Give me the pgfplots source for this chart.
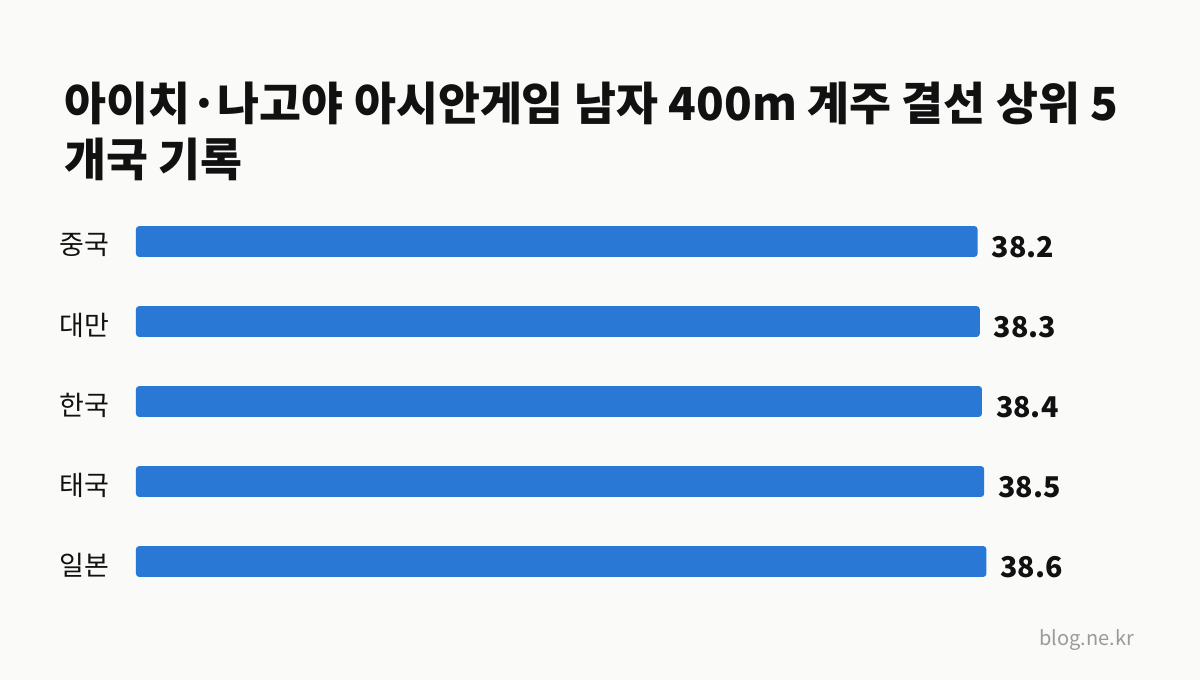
\documentclass[border=0pt]{standalone}
\usepackage{fontspec}
\usepackage{pgfplots}
\pgfplotsset{compat=1.18}
\setmainfont{Noto Sans CJK KR}

\definecolor{bg}{HTML}{FAFAF8}
\definecolor{barblue}{HTML}{2A78D6}
\definecolor{ink}{HTML}{111111}
\definecolor{wmark}{HTML}{9A9A9A}

\begin{document}
\begin{tikzpicture}
  % page: 1 pt = 1 px, origin at the top left
  \path[use as bounding box, fill=bg] (0,0) rectangle (1200pt,-680pt);

  \node[anchor=base west, inner sep=0pt, text=ink,
        font=\fontsize{45.6}{54}\selectfont\bfseries] at (64pt,-120pt)
    {아이치·나고야 아시안게임 남자 400m 계주 결선 상위 5};
  \node[anchor=base west, inner sep=0pt, text=ink,
        font=\fontsize{45.6}{54}\selectfont\bfseries] at (64pt,-176pt)
    {개국 기록};

  \begin{axis}[
      at={(136pt,-201.5pt)}, anchor=north west,
      scale only axis, width=881.2pt, height=400pt,
      xmin=0, xmax=40, ymin=-0.5, ymax=4.5, y dir=reverse,
      axis line style={draw=none}, tick style={draw=none},
      clip=false,
      xtick=\empty,
      ytick={0,...,4},
      yticklabels={중국,대만,한국,태국,일본},
      yticklabel style={font=\fontsize{27}{32}\selectfont, text=ink,
        anchor=west, inner sep=0pt, xshift=-72pt, yshift=-3.5pt},
      xbar, bar width=30.7pt, bar shift=0pt,
      point meta=explicit symbolic,
      nodes near coords={\pgfplotspointmeta},
      nodes near coords style={font=\fontsize{28.6}{34}\selectfont\bfseries,
        text=ink, anchor=west, inner sep=0pt, xshift=14pt, yshift=-5.5pt},
    ]
    \addplot[fill=barblue, draw=none, rounded corners=3pt] coordinates {
      (38.2,0) [38.2]
      (38.3,1) [38.3]
      (38.4,2) [38.4]
      (38.5,3) [38.5]
      (38.6,4) [38.6]
    };
  \end{axis}

  \node[anchor=base east, inner sep=0pt, text=wmark,
        font=\fontsize{20}{24}\selectfont] at (1134pt,-645pt) {blog.ne.kr};
\end{tikzpicture}
\end{document}
